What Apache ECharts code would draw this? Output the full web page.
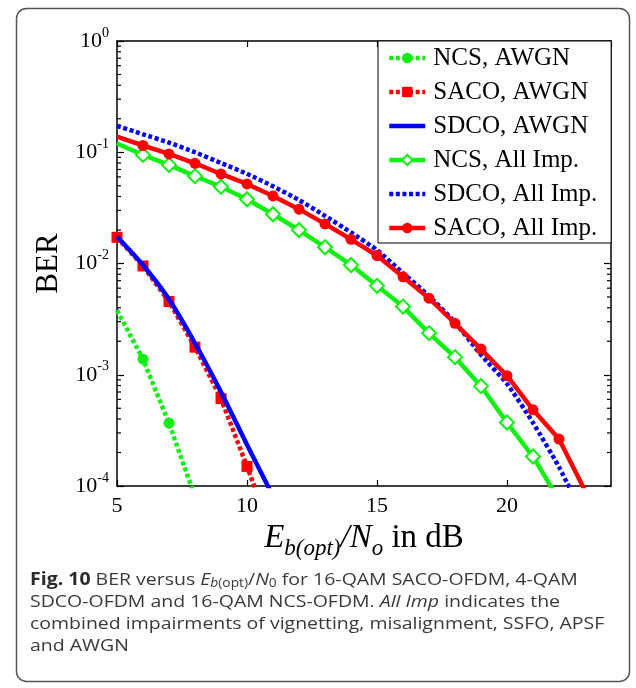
<!DOCTYPE html>
<html>
<head>
<meta charset="utf-8">
<script src="https://cdn.jsdelivr.net/npm/echarts@6/dist/echarts.min.js"></script>
<style>html,body{margin:0;padding:0;background:#fff;}#c{width:636px;height:688px;}</style>
</head>
<body>
<div id="c"></div>
<script>
// ---- data ----
const ncsAwgnX  = [5, 6, 7, 8];
const ncsAwgnY  = [3.8e-3, 1.38e-3, 3.67e-4, 8.0e-5];
const ncsAwgnMk = [false, true, true, false];

const sacoAwgnX  = [5, 6, 7, 8, 9, 10, 11];
const sacoAwgnY  = [1.72e-2, 9.5e-3, 4.55e-3, 1.77e-3, 6.1e-4, 1.5e-4, 3.5e-5];
const sacoAwgnMk = [true, true, true, true, true, true, false];

const sdcoAwgnX = [5, 6, 7, 8, 9, 10, 11];
const sdcoAwgnY = [1.75e-2, 9.7e-3, 4.77e-3, 1.92e-3, 7.0e-4, 2.35e-4, 8.1e-5];

const ncsAllX  = [5, 6, 7, 8, 9, 10, 11, 12, 13, 14, 15, 16, 17, 18, 19, 20, 21, 22];
const ncsAllY  = [0.12, 0.0946, 0.077, 0.061, 0.049, 0.0378, 0.0277, 0.020, 0.014, 0.0097,
                  0.0063, 0.0041, 0.00237, 0.00144, 0.00079, 0.000372, 0.000184, 7.5e-5];
const ncsAllMk = [false, true, true, true, true, true, true, true, true, true,
                  true, true, true, true, true, true, true, false];

const sdcoAllX = [5, 6, 7, 8, 9, 10, 11, 12, 13, 14, 15, 16, 17, 18, 19, 20, 21, 22, 23];
const sdcoAllY = [0.173, 0.145, 0.122, 0.100, 0.080, 0.064, 0.0494, 0.0372, 0.0268, 0.019,
                  0.0132, 0.0082, 0.0051, 0.00295, 0.00151, 0.00083, 0.00037, 0.000148, 5.0e-5];

const sacoAllX  = [5, 6, 7, 8, 9, 10, 11, 12, 13, 14, 15, 16, 17, 18, 19, 20, 21, 22, 23];
const sacoAllY  = [0.138, 0.115, 0.0966, 0.0796, 0.0638, 0.0519, 0.0405, 0.0308, 0.0227, 0.0165,
                   0.0118, 0.0076, 0.00488, 0.0029, 0.0017, 0.00098, 0.000484, 0.000264, 9.1e-5];
const sacoAllMk = [false, true, true, true, true, true, true, true, true, true,
                   true, true, true, true, true, true, true, true, false];

const seriesNames = ['NCS, AWGN', 'SACO, AWGN', 'SDCO, AWGN', 'NCS, All Imp.', 'SDCO, All Imp.', 'SACO, All Imp.'];
const xTickLabels = ['5', '10', '15', '20'];
const xMin = 5, xMax = 24, xStep = 5;
const yMin = 1e-4, yMax = 1;

// ---- helpers ----
function pts(xs, ys, mk) {
  return xs.map((x, i) => (mk && !mk[i]) ? { value: [x, ys[i]], symbol: 'none' } : [x, ys[i]]);
}
const minorTicks = [];
for (let e = -4; e < 0; e++) {
  for (let m = 2; m <= 9; m++) minorTicks.push([xMin, m * Math.pow(10, e)]);
}

const GREEN = '#10f010', RED = '#ff0000', BLUE = '#0000ff';
const SERIF = 'Liberation Serif';
const SANS = 'Open Sans';
const DOT = [4, 2.6];
const LW = 4.5;

const chart = echarts.init(document.getElementById('c'), null, { renderer: 'canvas' });

const yLabel = {
  show: true,
  margin: 8,
  fontFamily: SERIF,
  color: '#000',
  formatter: v => '{a|10}{b|' + Math.round(Math.log10(v)) + '}',
  rich: {
    a: { fontSize: 22, fontFamily: SERIF, color: '#000' },
    b: { fontSize: 14, fontFamily: SERIF, color: '#000', verticalAlign: 'top', padding: [0, 0, 16, 0] }
  }
};

const capRich = {
  b: { fontWeight: 'bold', fontSize: 17, fontFamily: SANS, fill: '#2a2a2a', lineHeight: 22 },
  i: { fontStyle: 'italic', fontSize: 17, fontFamily: SANS, fill: '#3a3a3a', lineHeight: 22 },
  n: { fontSize: 17, fontFamily: SANS, fill: '#3a3a3a', lineHeight: 22 },
  si: { fontStyle: 'italic', fontSize: 12, fontFamily: SANS, fill: '#3a3a3a', verticalAlign: 'bottom', padding: [0, 0, 1, 0] },
  s: { fontSize: 12, fontFamily: SANS, fill: '#3a3a3a', verticalAlign: 'bottom', padding: [0, 0, 1, 0] }
};

const axisLineStyle = { color: '#000', width: 1.5 };

const option = {
  backgroundColor: '#fff',
  animation: false,
  graphic: [
    { type: 'rect', left: 14, top: 6, shape: { width: 613, height: 673, r: 10 },
      style: { fill: 'none', stroke: '#555', lineWidth: 1.5 }, z: 0 },
    { type: 'text', left: 30, top: 569, z: 10, scaleX: 1.146,
      style: {
        text: '{b|Fig. 10} BER versus {i|E}{si|b}{s|(opt)}{n|/}{i|N}{s|0} for 16-QAM SACO-OFDM, 4-QAM\n' +
              'SDCO-OFDM and 16-QAM NCS-OFDM. {i|All Imp} indicates the\n' +
              'combined impairments of vignetting, misalignment, SSFO, APSF\n' +
              'and AWGN',
        font: '17px "Open Sans"',
        fill: '#3a3a3a',
        lineHeight: 22,
        rich: capRich
      }
    }
  ],
  grid: { left: 117, right: 25, top: 41, bottom: 202, containLabel: false },
  legend: {
    data: [
      { name: seriesNames[0] },
      { name: seriesNames[1] },
      { name: seriesNames[2], itemStyle: { opacity: 0 } },
      { name: seriesNames[3] },
      { name: seriesNames[4], itemStyle: { opacity: 0 } },
      { name: seriesNames[5] }
    ],
    orient: 'vertical',
    left: 378,
    top: 41,
    backgroundColor: '#fff',
    borderColor: '#000',
    borderWidth: 1,
    borderRadius: 0,
    padding: [4, 14, 2, 9],
    itemWidth: 36,
    itemHeight: 13,
    itemGap: 8,
    lineStyle: { width: LW },
    textStyle: { fontFamily: SERIF, fontSize: 25, color: '#000', lineHeight: 26, padding: [0, 0, 0, 3] },
    z: 20
  },
  xAxis: [
    {
      type: 'value', min: xMin, max: xMax, interval: xStep, position: 'bottom',
      axisLine: { show: true, onZero: false, lineStyle: axisLineStyle },
      axisTick: { show: true, inside: true, length: 6, lineStyle: { color: '#000', width: 1.2 } },
      splitLine: { show: false },
      axisLabel: {
        margin: 9, fontFamily: SERIF, fontSize: 22, color: '#000', showMaxLabel: false,
        formatter: v => (xTickLabels.indexOf(String(v)) >= 0 ? '{a|' + v + '}' : ''),
        rich: { a: { fontFamily: SERIF, fontSize: 22, color: '#000' } }
      },
      name: '{i|E}{s|b(opt)}{i|/N}{s|o}{n| in dB}',
      nameLocation: 'middle',
      nameGap: 28,
      nameTextStyle: {
        fontFamily: SERIF, color: '#000',
        rich: {
          i: { fontFamily: SERIF, fontStyle: 'italic', fontSize: 33, color: '#000', lineHeight: 33 },
          n: { fontFamily: SERIF, fontSize: 33, color: '#000', lineHeight: 33 },
          s: { fontFamily: SERIF, fontStyle: 'italic', fontSize: 23, color: '#000', verticalAlign: 'bottom', padding: [22, 0, 0, 0] }
        }
      }
    },
    {
      type: 'value', min: xMin, max: xMax, interval: xStep, position: 'top',
      axisLine: { show: true, onZero: false, lineStyle: axisLineStyle },
      axisTick: { show: true, inside: true, length: 6, lineStyle: { color: '#000', width: 1.2 } },
      axisLabel: { show: false },
      splitLine: { show: false }
    }
  ],
  yAxis: [
    {
      type: 'log', logBase: 10, min: yMin, max: yMax, position: 'left',
      axisLine: { show: true, onZero: false, lineStyle: axisLineStyle },
      axisTick: { show: true, inside: true, length: 7, lineStyle: { color: '#000', width: 1.2 } },
      splitLine: { show: false },
      axisLabel: yLabel,
      name: 'BER',
      nameLocation: 'middle',
      nameRotate: 90,
      nameGap: 52,
      nameTextStyle: { fontFamily: SERIF, fontSize: 31, color: '#000' }
    },
    {
      type: 'log', logBase: 10, min: yMin, max: yMax, position: 'right',
      axisLine: { show: true, onZero: false, lineStyle: axisLineStyle },
      axisTick: { show: true, inside: true, length: 7, lineStyle: { color: '#000', width: 1.2 } },
      splitLine: { show: false },
      axisLabel: { show: false }
    }
  ],
  series: [
    {
      name: seriesNames[0], type: 'line', data: pts(ncsAwgnX, ncsAwgnY, ncsAwgnMk),
      symbol: 'circle', symbolSize: 11, showAllSymbol: true,
      lineStyle: { color: GREEN, width: LW, type: DOT },
      itemStyle: { color: GREEN }, z: 3
    },
    {
      name: seriesNames[1], type: 'line', data: pts(sacoAwgnX, sacoAwgnY, sacoAwgnMk),
      symbol: 'rect', symbolSize: 11, showAllSymbol: true,
      lineStyle: { color: RED, width: LW, type: DOT },
      itemStyle: { color: RED }, z: 3
    },
    {
      name: seriesNames[2], type: 'line', data: pts(sdcoAwgnX, sdcoAwgnY), smooth: 0.2,
      symbol: 'none',
      lineStyle: { color: BLUE, width: LW, type: 'solid' },
      itemStyle: { color: BLUE }, z: 4
    },
    {
      name: seriesNames[3], type: 'line', data: pts(ncsAllX, ncsAllY, ncsAllMk),
      symbol: 'emptyDiamond', symbolSize: 14, showAllSymbol: true,
      lineStyle: { color: GREEN, width: LW, type: 'solid' },
      itemStyle: { color: GREEN, borderColor: GREEN, borderWidth: 4 }, z: 3
    },
    {
      name: seriesNames[4], type: 'line', data: pts(sdcoAllX, sdcoAllY), smooth: 0.2,
      symbol: 'none',
      lineStyle: { color: BLUE, width: LW, type: DOT },
      itemStyle: { color: BLUE }, z: 3
    },
    {
      name: seriesNames[5], type: 'line', data: pts(sacoAllX, sacoAllY, sacoAllMk),
      symbol: 'circle', symbolSize: 11, showAllSymbol: true,
      lineStyle: { color: RED, width: LW, type: 'solid' },
      itemStyle: { color: RED }, z: 4
    },
    {
      type: 'custom', silent: true, z: 10,
      data: minorTicks,
      renderItem: function (params, api) {
        const y = api.coord([api.value(0), api.value(1)])[1];
        const cs = params.coordSys;
        return {
          type: 'group',
          children: [
            { type: 'line', shape: { x1: cs.x, y1: y, x2: cs.x + 4, y2: y }, style: { stroke: '#000', lineWidth: 1.2 } },
            { type: 'line', shape: { x1: cs.x + cs.width - 4, y1: y, x2: cs.x + cs.width, y2: y }, style: { stroke: '#000', lineWidth: 1.2 } }
          ]
        };
      }
    }
  ]
};
chart.setOption(option);
</script>
</body>
</html>
